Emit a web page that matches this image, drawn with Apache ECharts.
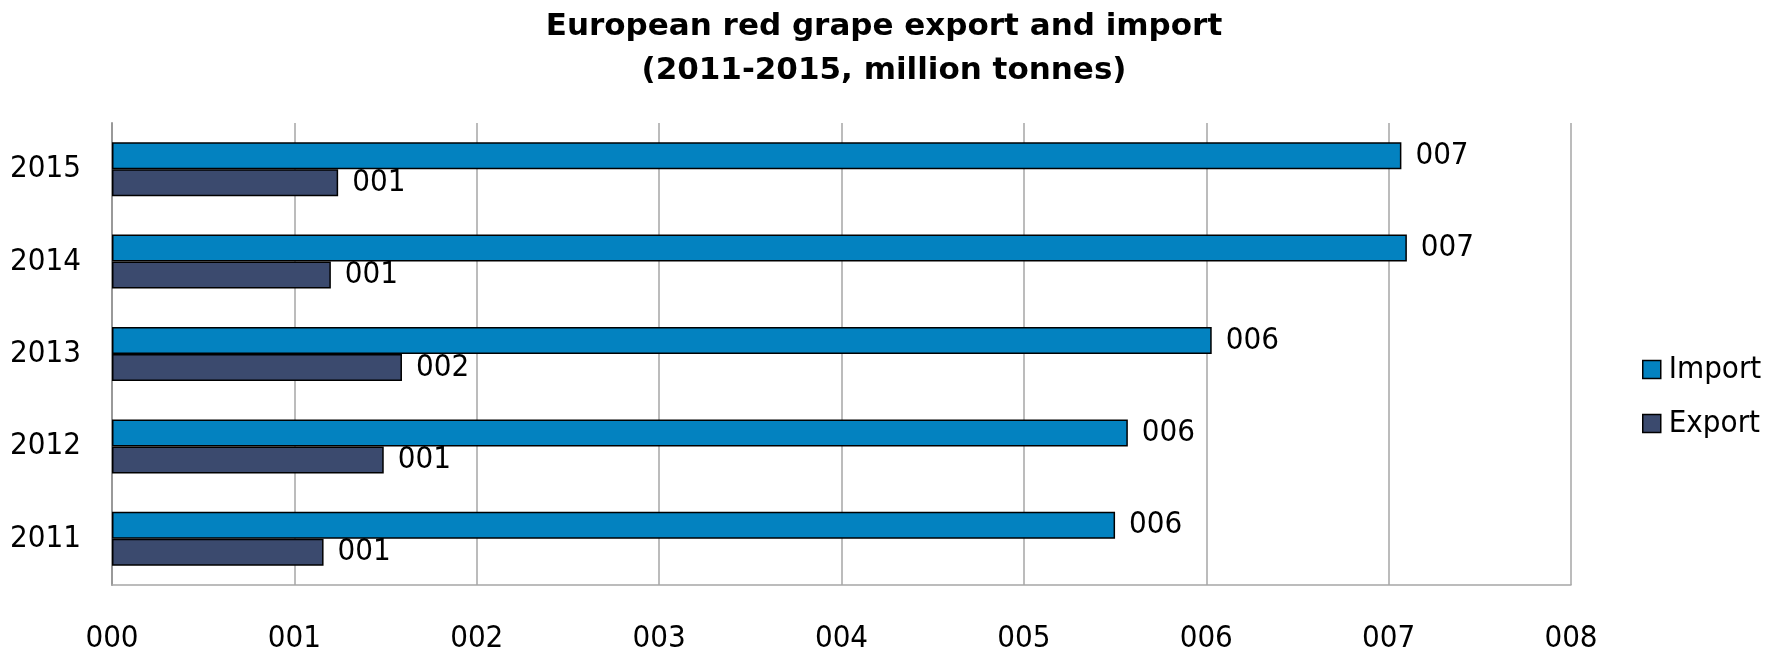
<!DOCTYPE html>
<html>
<head>
<meta charset="utf-8">
<script src="https://cdn.jsdelivr.net/npm/echarts@6/dist/echarts.min.js"></script>
<style>
  html, body { margin: 0; padding: 0; background: #fff; }
  #chart { width: 1768px; height: 654px; }
</style>
</head>
<body>
<div id="chart"></div>
<script>
var years = ['2011', '2012', '2013', '2014', '2015'];
var importValues = [5.50, 5.57, 6.03, 7.10, 7.07];
var exportValues = [1.16, 1.49, 1.59, 1.20, 1.24];

var font = '"DejaVu Sans Condensed", "DejaVu Sans", sans-serif';

function pad3(v) {
    return String(Math.round(v)).padStart(3, '0');
}

var chart = echarts.init(document.getElementById('chart'));

var barLabel = {
    show: true,
    position: 'right',
    distance: 14,
    fontFamily: font,
    fontSize: 31,
    color: '#000',
    formatter: function (p) { return pad3(p.value); }
};

chart.setOption({
    animation: false,
    title: {
        text: 'European red grape export and import\n(2011-2015, million tonnes)',
        left: 'center',
        top: 0,
        textStyle: {
            fontFamily: '"DejaVu Sans", sans-serif',
            fontWeight: 'bold',
            fontSize: 31,
            lineHeight: 44,
            color: '#000'
        }
    },
    legend: {
        orient: 'vertical',
        left: 1637,
        top: 349,
        itemWidth: 18,
        itemHeight: 18,
        itemGap: 23,
        icon: 'rect',
        data: ['Import', 'Export'],
        itemStyle: { borderColor: '#000', borderWidth: 1.5 },
        textStyle: { fontFamily: font, fontSize: 31, lineHeight: 30, color: '#000', padding: [0, 0, 0, 3] }
    },
    grid: {
        left: 112,
        right: 197,
        top: 123,
        bottom: 62,
        containLabel: false
    },
    xAxis: {
        type: 'value',
        min: 0,
        max: 8,
        interval: 1,
        axisLine: { show: true, lineStyle: { color: '#a6a6a6', width: 1.5 } },
        axisTick: { show: false },
        splitLine: { show: true, lineStyle: { color: '#a6a6a6', width: 1.5 } },
        axisLabel: {
            margin: 38,
            fontFamily: font,
            fontSize: 31,
            color: '#000',
            formatter: function (v) { return pad3(v); }
        }
    },
    yAxis: {
        type: 'category',
        data: years,
        axisLine: { show: true, lineStyle: { color: '#999', width: 2 } },
        axisTick: { show: false },
        axisLabel: {
            margin: 31,
            fontFamily: font,
            fontSize: 31,
            color: '#000'
        }
    },
    series: [
        {
            name: 'Import',
            type: 'bar',
            data: importValues,
            barWidth: 27,
            barGap: '0%',
            itemStyle: { color: '#0382c0', borderColor: '#000', borderWidth: 1.5 },
            label: barLabel
        },
        {
            name: 'Export',
            type: 'bar',
            data: exportValues,
            barWidth: 27,
            barGap: '0%',
            itemStyle: { color: '#3b4a6e', borderColor: '#000', borderWidth: 1.5 },
            label: barLabel
        }
    ]
});
</script>
</body>
</html>
